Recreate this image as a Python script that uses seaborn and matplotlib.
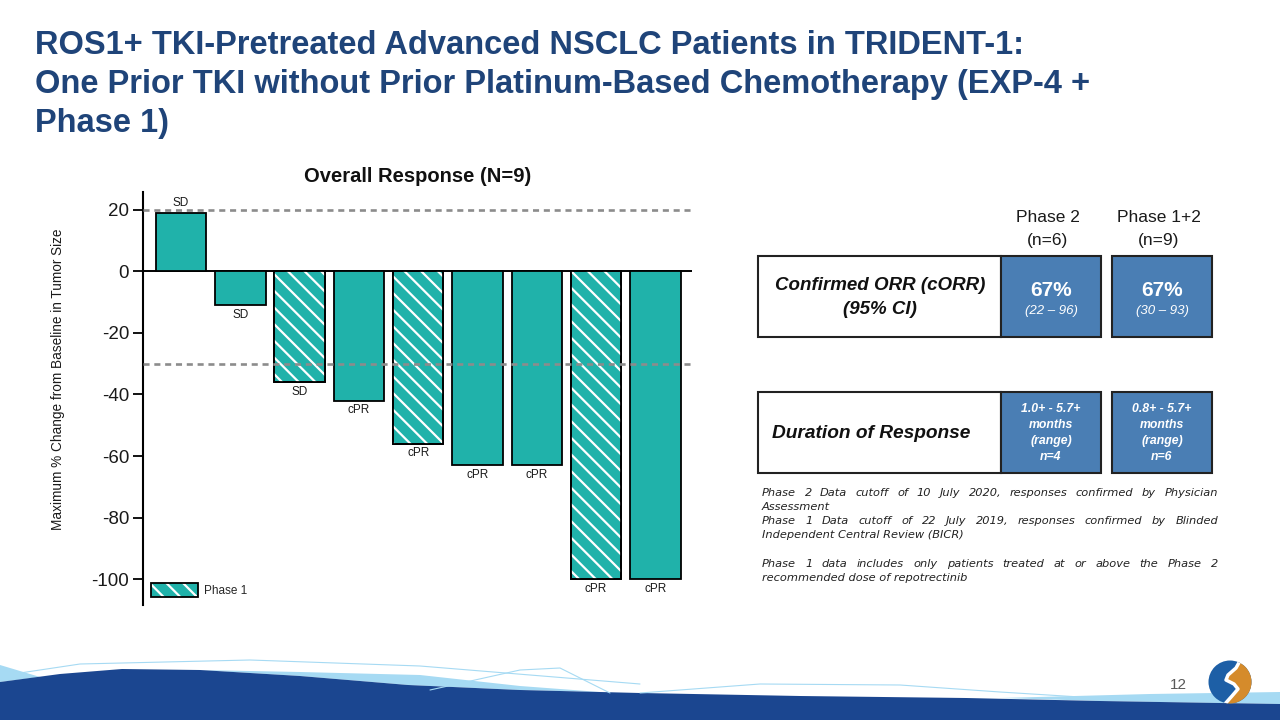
import numpy as np
import pandas as pd
import seaborn as sns
import matplotlib
matplotlib.use("Agg")
import matplotlib.pyplot as plt
from matplotlib.patches import Rectangle, Patch, Circle, Polygon
from matplotlib.legend_handler import HandlerTuple

# ---------------- data ----------------
patients = ["P1", "P2", "P3", "P4", "P5", "P6", "P7", "P8", "P9"]
pct_change = [19, -11, -36, -42, -56, -63, -63, -100, -100]
responses = ["SD", "SD", "SD", "cPR", "cPR", "cPR", "cPR", "cPR", "cPR"]
phase = ["Phase 2", "Phase 2", "Phase 1", "Phase 2", "Phase 1",
         "Phase 2", "Phase 2", "Phase 1", "Phase 2"]
y_ticks = [20, 0, -20, -40, -60, -80, -100]
ref_lines = [20, -30]

title_lines = ["ROS1+ TKI-Pretreated Advanced NSCLC Patients in TRIDENT-1:",
               "One Prior TKI without Prior Platinum-Based Chemotherapy (EXP-4 +",
               "Phase 1)"]
chart_title = "Overall Response (N=9)"
y_label = "Maximum % Change from Baseline in Tumor Size"

col_headers = [("Phase 2", "(n=6)"), ("Phase 1+2", "(n=9)")]
orr_values = ["67%", "67%"]
orr_ci = ["(22 \u2013 96)", "(30 \u2013 93)"]
dor_values = [["1.0+ - 5.7+", "months", "(range)", "n=4"],
              ["0.8+ - 5.7+", "months", "(range)", "n=6"]]
footnotes = [
    ("Phase 2 Data cutoff of 10 July 2020, responses confirmed by Physician", True),
    ("Assessment", False),
    ("Phase 1 Data cutoff of 22 July 2019, responses confirmed by Blinded", True),
    ("Independent Central Review (BICR)", False),
    ("", False),
    ("Phase 1 data includes only patients treated at or above the Phase 2", True),
    ("recommended dose of repotrectinib", False),
]
page_number = "12"

# ---------------- style ----------------
TEAL = "#20B2AA"
BOX_BLUE = "#4A7EB4"
TITLE_BLUE = "#1F4479"
DARK_BAND = "#1B4690"
LIGHT_BAND = "#A6DAF3"

sns.set_theme(style="white")
plt.rcParams["font.family"] = ["Liberation Sans", "DejaVu Sans"]
plt.rcParams["hatch.linewidth"] = 1.6

W, H = 1280, 720
fig = plt.figure(figsize=(12.8, 7.2), dpi=100)
fig.patch.set_facecolor("white")

# overlay axes in pixel coordinates for slide decoration / table
ov = fig.add_axes([0, 0, 1, 1], zorder=0)
ov.set_xlim(0, W)
ov.set_ylim(H, 0)
ov.axis("off")

# ---------------- bar chart ----------------
ax = fig.add_axes([143 / W, 1 - 605 / H, (692 - 143) / W, (605 - 192) / H], zorder=2)
ax.patch.set_alpha(0)
df = pd.DataFrame({"patient": patients, "change": pct_change,
                   "response": responses, "phase": phase})
sns.barplot(data=df, x="patient", y="change", color=TEAL, saturation=1,
            edgecolor="black", linewidth=1.3, width=0.85, ax=ax, zorder=2)

bars = list(ax.patches)
for patch, ph in zip(bars, df["phase"]):
    if ph == "Phase 1":
        ax.add_patch(Rectangle((patch.get_x(), patch.get_y()), patch.get_width(),
                               patch.get_height(), facecolor="none", edgecolor="white",
                               hatch="\\\\", lw=0, zorder=2.1))
        ax.add_patch(Rectangle((patch.get_x(), patch.get_y()), patch.get_width(),
                               patch.get_height(), facecolor="none", edgecolor="black",
                               lw=1.3, zorder=2.2))

for patch, lab, v in zip(bars, df["response"], df["change"]):
    cx = patch.get_x() + patch.get_width() / 2
    if v >= 0:
        ax.annotate(lab, (cx, v), xytext=(0, 3), textcoords="offset points",
                    ha="center", va="bottom", fontsize=8.5, color="#1a1a1a")
    else:
        ax.annotate(lab, (cx, v), xytext=(0, -2.5), textcoords="offset points",
                    ha="center", va="top", fontsize=8.5, color="#1a1a1a")

ax.axhline(0, color="black", lw=1.4, zorder=1.5)
for yv in ref_lines:
    ax.axhline(yv, color="#8C8C8C", lw=1.9, ls=(0, (2.3, 1.8)), zorder=3)

ax.set_xlim(-0.641, 8.617)
ax.set_ylim(-108.4, 25.8)
ax.set_yticks(y_ticks)
ax.set_yticklabels([str(t) for t in y_ticks])
ax.set_xticks([])
ax.set_xlabel("")
ax.tick_params(axis="y", left=True, length=7, width=1.3, labelsize=13.5,
               color="black", labelcolor="#1a1a1a", pad=3)
for s in ["top", "right", "bottom"]:
    ax.spines[s].set_visible(False)
ax.spines["left"].set_color("black")
ax.spines["left"].set_linewidth(1.5)
ax.set_ylabel(y_label, fontsize=9.8, color="#1a1a1a")
ax.yaxis.set_label_coords(-0.142, 0.547)
ax.set_title(chart_title, fontsize=14.5, fontweight="bold", color="#111111", pad=7)

leg_handle = (Patch(facecolor=TEAL, edgecolor="white", hatch="\\\\", lw=0),
              Patch(facecolor="none", edgecolor="black", lw=1.3))
ax.legend(handles=[leg_handle], labels=["Phase 1"],
          handler_map={tuple: HandlerTuple(ndivide=1, pad=0)},
          loc="lower left", bbox_to_anchor=(0.0146, 0.019), borderaxespad=0,
          borderpad=0, frameon=False, handlelength=4.0, handleheight=1.5,
          handletextpad=0.5, fontsize=8.5)

# ---------------- slide title ----------------
for line, yb in zip(title_lines, [54, 93, 132]):
    ov.text(35, yb, line, fontsize=23.5, fontweight="bold", color=TITLE_BLUE,
            ha="left", va="baseline")

# ---------------- summary table ----------------
box_cols = [(1001, 1101), (1112, 1212)]
for (hx0, hx1), (h1, h2) in zip(box_cols, col_headers):
    cx = (hx0 + hx1) / 2 - 3
    ov.text(cx, 217, h1, fontsize=12.5, ha="center", va="center", color="#1a1a1a")
    ov.text(cx, 240, h2, fontsize=12.5, ha="center", va="center", color="#1a1a1a")

for (y0, y1) in [(256, 337), (392, 473)]:
    ov.add_patch(Rectangle((758, y0), 1001 - 758, y1 - y0, facecolor="white",
                           edgecolor="#222222", lw=1.5))
    for (bx0, bx1) in box_cols:
        ov.add_patch(Rectangle((bx0, y0), bx1 - bx0, y1 - y0, facecolor=BOX_BLUE,
                               edgecolor="#222222", lw=1.5))

ov.text(880, 285, "Confirmed ORR (cORR)", fontsize=13.5, fontweight="bold",
        style="italic", ha="center", va="center", color="#111111")
ov.text(880, 310, "(95% CI)", fontsize=13.5, fontweight="bold",
        style="italic", ha="center", va="center", color="#111111")
ov.text(772, 433, "Duration of Response", fontsize=13.8, fontweight="bold",
        style="italic", ha="left", va="center", color="#111111")

for (bx0, bx1), val, ci, dor in zip(box_cols, orr_values, orr_ci, dor_values):
    cx = (bx0 + bx1) / 2
    ov.text(cx, 290, val, fontsize=15, fontweight="bold", color="white",
            ha="center", va="center")
    ov.text(cx, 311, ci, fontsize=9.5, style="italic", color="white",
            ha="center", va="center")
    for i, line in enumerate(dor):
        ov.text(cx, 409 + 16 * i, line, fontsize=8.8, fontweight="bold",
                style="italic", color="white", ha="center", va="center")

# footnotes (justified)
renderer = fig.canvas.get_renderer()
x0, x1 = 762, 1218
fn_y = [496, 510, 524, 538, 552, 567, 581]
FN = dict(fontsize=8.2, style="italic", color="#222222", ha="left", va="baseline",
          family=["DejaVu Sans"])
for (text, justify), yb in zip(footnotes, fn_y):
    if not text:
        continue
    if not justify:
        ov.text(x0, yb, text, **FN)
        continue
    words = text.split()
    objs = [ov.text(x0, yb, w, **FN) for w in words]
    widths = [o.get_window_extent(renderer).width for o in objs]
    gap = (x1 - x0 - sum(widths)) / (len(words) - 1)
    xc = x0
    for o, wdt in zip(objs, widths):
        o.set_x(xc)
        xc += wdt + gap

# ---------------- bottom band & logo ----------------
dark_top = [(0, 682), (60, 674), (122, 669), (200, 670), (300, 676), (408, 685),
            (520, 690), (640, 693), (800, 696), (966, 698), (1100, 701), (1280, 704)]
ov.add_patch(Polygon([(0, 665), (40, 677), (0, 682)], closed=True,
                     facecolor=LIGHT_BAND, edgecolor="none"))
ov.add_patch(Polygon([(200, 670), (300, 672), (420, 675), (520, 686), (600, 692),
                      (640, 693), (520, 690), (408, 685), (300, 676)], closed=True,
                     facecolor=LIGHT_BAND, edgecolor="none"))
ov.add_patch(Polygon([(1000, 698), (1150, 694), (1280, 692), (1280, 704), (1100, 701)],
                     closed=True, facecolor=LIGHT_BAND, edgecolor="none"))
ov.add_patch(Polygon(dark_top + [(1280, 720), (0, 720)], closed=True,
                     facecolor=DARK_BAND, edgecolor="none"))
ov.plot([0, 80, 250, 420, 640], [676, 664, 660, 666, 684], color=LIGHT_BAND, lw=0.8)
ov.plot([430, 520, 560, 610], [690, 670, 668, 693], color=LIGHT_BAND, lw=0.8)
ov.plot([640, 760, 900, 1000, 1080], [693, 684, 685, 692, 697], color=LIGHT_BAND, lw=0.8)

ov.text(1178, 685, page_number, fontsize=11, color="#595959", ha="center", va="center")

logo = Circle((1230, 682), 21.5, facecolor="#1D5FA6", edgecolor="none")
ov.add_patch(logo)
s_pts = [(1241, 659), (1236, 668), (1228, 675), (1226, 680), (1234, 684),
         (1238, 689), (1232, 696), (1224, 705)]
orange = Polygon(s_pts + [(1260, 705), (1260, 659)], closed=True,
                 facecolor="#D58B2B", edgecolor="none")
ov.add_patch(orange)
orange.set_clip_path(logo)
sline, = ov.plot([p[0] for p in s_pts], [p[1] for p in s_pts], color="white", lw=2.5)
sline.set_clip_path(logo)

fig.savefig("out.png", dpi=100)
